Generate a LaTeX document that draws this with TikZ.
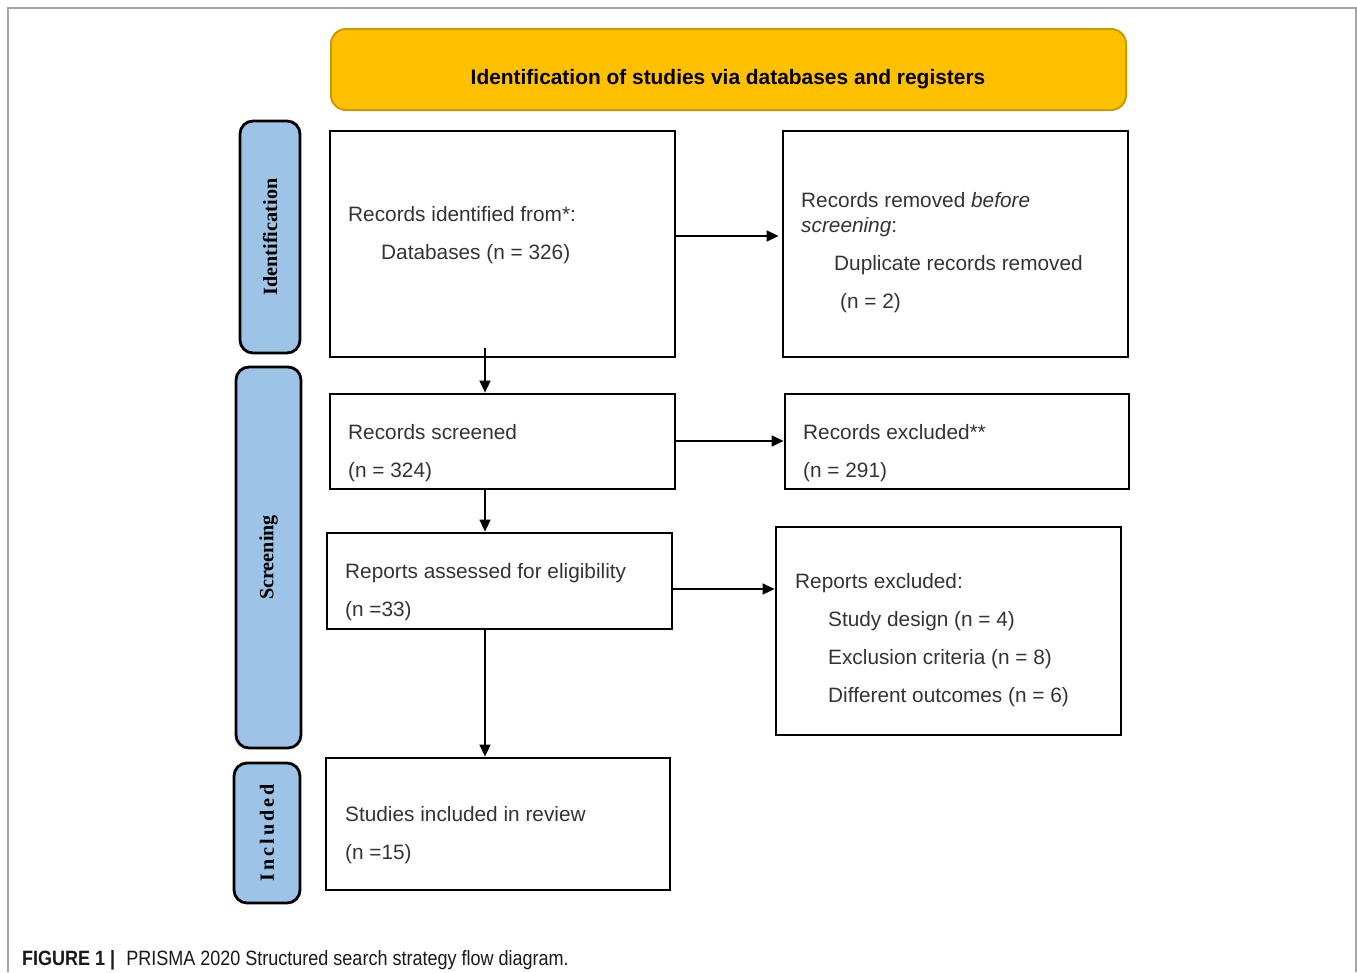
\documentclass[tikz,border=0pt]{standalone}
\usepackage{fontspec}
\setmainfont{Liberation Sans}
\newfontfamily\phasefont{Liberation Serif}
\newfontfamily\phasefontsp[LetterSpace=15]{Liberation Serif}
\newfontfamily\capfont[FakeStretch=0.87]{Liberation Sans}
\usepackage{tikz}
\usetikzlibrary{calc,arrows.meta}
\definecolor{hdrfill}{HTML}{FFC000}
\definecolor{hdrline}{HTML}{C99A00}
\definecolor{phasefill}{HTML}{9DC3E6}
\definecolor{txtgray}{HTML}{333333}

\begin{document}
\begin{tikzpicture}[>={Triangle[length=12pt,width=11pt]},x=1pt,y=-1pt,
  box/.style={draw,line width=2.8pt,inner sep=0pt},
  phase/.style={draw,line width=2.8pt,fill=phasefill,rounded corners=13pt,inner sep=0pt,rotate=90,
    font=\fontsize{20.2}{24}\phasefont\bfseries},
  txt/.style={anchor=base west,align=left,inner sep=0pt,text=txtgray,font=\fontsize{20.8}{38}\selectfont},
  arr/.style={->,line width=1.6pt}]
  \useasboundingbox (0,0) rectangle (1357,972);

  % Frame round the figure
  \draw[gray!70,line width=1.2pt] (8,972) -- (8,8) -- (1356,8) -- (1356,972);

  % Header
  \node[draw=hdrline,fill=hdrfill,line width=2pt,rounded corners=15pt,minimum width=795pt,minimum height=81pt] (head) at (728.5,69.5) {};
  \node[font=\fontsize{20.9}{24}\selectfont\bfseries,inner sep=0pt] (headtxt) at (728,79) {Identification of studies via databases and registers};

  % Phase labels on the left
  \node[phase,minimum width=232pt,minimum height=60pt] (idphase) at (270,237) {Identification};
  \node[phase,minimum width=381pt,minimum height=65pt] (scphase) at (268.5,557.5) {Screening};
  \node[phase,minimum width=140pt,minimum height=66pt,font=\fontsize{20.2}{24}\phasefontsp\bfseries] (inphase) at (267,833) {Included};

  % Boxes
  \node[box,minimum width=345pt,minimum height=226pt] (ident) at (502.5,244) {};
  \node[box,minimum width=345pt,minimum height=226pt] (removed) at (955.5,244) {};
  \node[box,minimum width=345pt,minimum height=95pt] (screened) at (502.5,441.5) {};
  \node[box,minimum width=344pt,minimum height=95pt] (excluded) at (957,441.5) {};
  \node[box,minimum width=345pt,minimum height=96pt] (assessed) at (499.5,581) {};
  \node[box,minimum width=345pt,minimum height=208pt] (rptexcl) at (948.5,631) {};
  \node[box,minimum width=344pt,minimum height=132pt] (included) at (498,824) {};

  % Box texts (placed at the baseline of their last line)
  \node[txt] (identtxt) at (348,259) {Records identified from*:\\\hspace{33pt}Databases (n = 326)};
  \node[txt] (removedtxt) at (801,308) {Records removed \textit{before}\\[-13pt]\textit{screening}:\\\hspace{33pt}Duplicate records removed\\\hspace{39pt}(n = 2)};
  \node[txt] (screenedtxt) at (348,477) {Records screened\\(n = 324)};
  \node[txt] (excludedtxt) at (803,477) {Records excluded**\\(n = 291)};
  \node[txt] (assessedtxt) at (345,616) {Reports assessed for eligibility\\(n =33)};
  \node[txt] (rptexcltxt) at (795,702) {Reports excluded:\\\hspace{33pt}Study design (n = 4)\\\hspace{33pt}Exclusion criteria (n = 8)\\\hspace{33pt}Different outcomes (n = 6)};
  \node[txt] (includedtxt) at (345,859) {Studies included in review\\(n =15)};

  % Arrows
  \coordinate (colx) at (485,0);
  \coordinate (row1) at (0,236);
  \coordinate (row2) at (0,441);
  \coordinate (row3) at (0,589);
  \draw[arr] ($(ident.south -| colx)+(0,-10)$) -- (screened.north -| colx);
  \draw[arr] (screened.south -| colx) -- (assessed.north -| colx);
  \draw[arr] (assessed.south -| colx) -- (included.north -| colx);
  \draw[arr,shorten >=3pt] (ident.east |- row1) -- (removed.west |- row1);
  \draw[arr] (screened.east |- row2) -- (excluded.west |- row2);
  \draw[arr] (assessed.east |- row3) -- (rptexcl.west |- row3);

  % Caption
  \node[anchor=base west,inner sep=0pt,text=black!90,font=\fontsize{20.7}{24}\capfont] (caption) at (22,965) {\textbf{FIGURE 1 |}\hspace{11pt}PRISMA 2020 Structured search strategy flow diagram.};
\end{tikzpicture}
\end{document}
